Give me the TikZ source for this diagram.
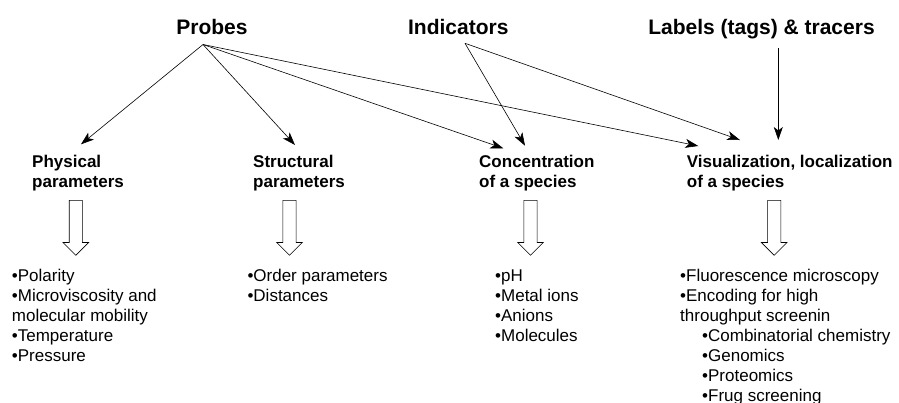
\documentclass[tikz,border=0pt]{standalone}
\usepackage{fontspec}
\setmainfont{Liberation Sans}
\usepackage{tikz}
\usetikzlibrary{arrows.meta,positioning,calc,shapes.arrows}

\begin{document}
\begin{tikzpicture}[x=1pt, y=-1pt,
  top/.style={font=\fontsize{21}{25}\selectfont\bfseries, inner sep=0pt, anchor=base},
  cat/.style={font=\fontsize{17}{20}\selectfont\bfseries, align=left, inner sep=0pt, anchor=base west},
  lst/.style={font=\fontsize{17}{20}\selectfont, align=left, inner sep=0pt, anchor=base west},
  e/.style={line width=0.6pt, -{Stealth[length=13pt,width=9pt,inset=3.5pt]}},
  hollow/.style={single arrow, draw, line width=0.6pt, rotate=-90, inner sep=0pt,
    inner ysep=6.3pt, minimum height=55pt, single arrow head extend=6.2pt, anchor=tail}]
\useasboundingbox (0,0) rectangle (899,402);

\node[top] (probes) at (212,34)   {Probes};
\node[top] (ind)    at (458.3,34) {Indicators};
\node[top] (lab)    at (761.5,34) {Labels (tags) \& tracers};

% base anchor sits on the last line
\node[cat] (phys)   at (32,187.5)    {Physical\\parameters};
\node[cat] (struct) at (253,187.5)   {Structural\\parameters};
\node[cat] (conc)   at (479,187.5)   {Concentration\\of a species};
\node[cat] (vis)    at (686.7,187.5) {Visualization, localization\\of a species};

% hollow arrows down to the lists
\node[hollow] (physa)   at (75.8,200)  {};
\node[hollow] (structa) at (289.5,200) {};
\node[hollow] (conca)   at (530.5,200) {};
\node[hollow] (visa)    at (774.2,200) {};

\node[lst] (physl)   at (11.7,361) {•Polarity\\•Microviscosity and\\molecular mobility\\•Temperature\\•Pressure};
\node[lst] (structl) at (247.3,301) {•Order parameters\\•Distances};
\node[lst] (concl)   at (495,341) {•pH\\•Metal ions\\•Anions\\•Molecules};
\node[lst] (visl)    at (680,401) {•Fluorescence microscopy\\•Encoding for high\\throughput screenin\\
  \hspace*{22pt}•Combinatorial chemistry\\\hspace*{22pt}•Genomics\\\hspace*{22pt}•Proteomics\\\hspace*{22pt}•Frug screening};

\coordinate (pr) at (203,44.5);
\coordinate (in) at (465,43.3);
\coordinate (lb) at (778.3,48.3);
\coordinate (phys-p)   at (81,144.3);
\coordinate (struct-p) at (295,145);
\coordinate (conc-p)   at (503.3,148.3);
\coordinate (conc-i)   at (525,145.7);
\coordinate (vis-p)    at (698.3,146);
\coordinate (vis-i)    at (740,140);
\coordinate (vis-l)    at (778.3,140);

\foreach \a/\b in {pr/phys-p,pr/struct-p,pr/conc-p,pr/vis-p,in/conc-i,in/vis-i,lb/vis-l}
  \draw[e] (\a)--(\b);
\end{tikzpicture}
\end{document}
